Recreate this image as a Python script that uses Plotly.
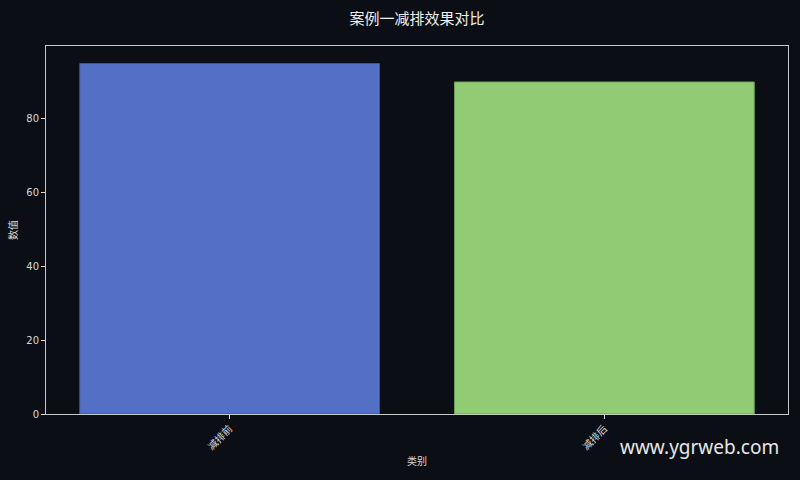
import plotly.graph_objects as go

# data
categories = ["减排前", "减排后"]
values = [95, 90]
bar_colors = ["#5470c6", "#91cc75"]
edge_colors = ["#3f549a", "#6d9b58"]
y_ticks = [0, 20, 40, 60, 80]

bg = "#0b0e15"
fg = "#d9d9d9"
font_family = "DejaVu Sans, Noto Sans CJK SC"

fig = go.Figure()
fig.add_trace(go.Bar(x=[0, 1], y=values, width=0.8,
                     marker=dict(color=bar_colors, line=dict(color=edge_colors, width=1)),
                     showlegend=False, hoverinfo="skip"))

fig.update_layout(
    width=800, height=480,
    paper_bgcolor=bg, plot_bgcolor=bg,
    margin=dict(l=46, r=12, t=46, b=66),
    font=dict(family=font_family, color=fg, size=10),
    title=dict(text="案例一减排效果对比", xref="paper", x=0.5, xanchor="center", y=0.96, yanchor="middle",
               font=dict(size=15, color="#eeeeee", family="Noto Sans CJK SC")),
    bargap=0.2,
)

fig.update_xaxes(range=[-0.49, 1.49], tickvals=[0, 1], ticktext=categories, tickangle=-45,
                 ticks="outside", ticklen=4, tickcolor=fg, showgrid=False, zeroline=False,
                 showline=True, linecolor="#c8c8c8", linewidth=1, mirror=True, automargin=False,
                 title=dict(text="类别", font=dict(size=10, family="Noto Sans CJK SC"), standoff=6),
                 tickfont=dict(size=10, family="Noto Sans CJK SC"))
fig.update_yaxes(range=[0, 99.75], tickvals=y_ticks, ticks="outside", ticklen=4, tickcolor=fg,
                 showgrid=False, zeroline=False, automargin=False,
                 showline=True, linecolor="#c8c8c8", linewidth=1, mirror=True,
                 title=dict(text="数值", font=dict(size=10, family="Noto Sans CJK SC"), standoff=6),
                 tickfont=dict(size=10))

fig.add_annotation(text="www.ygrweb.com", xref="paper", yref="paper", x=0.9906, y=-0.09,
                   xanchor="right", yanchor="middle", showarrow=False,
                   font=dict(size=19, color="#e6e6e6", family="Noto Sans"))

fig.write_html("out.html", config={"displayModeBar": False},
               post_script="document.body.style.margin='0';document.body.style.background='#0b0e15';")
